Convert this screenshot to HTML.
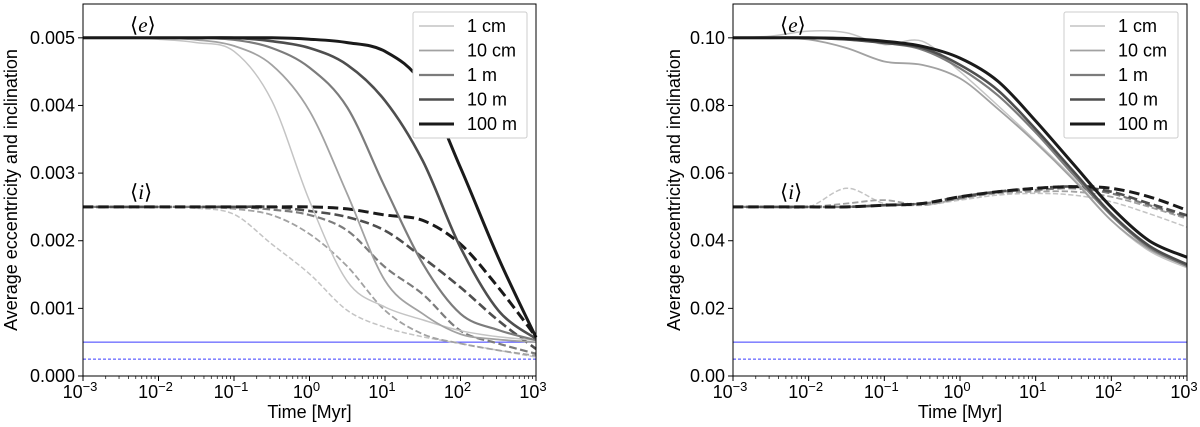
<!DOCTYPE html>
<html><head><meta charset="utf-8"><style>
html,body{margin:0;padding:0;background:#fff;}
svg{display:block;font-family:"Liberation Sans","DejaVu Sans",sans-serif;}
</style></head><body>
<svg id="fig" width="1200" height="427" viewBox="0 0 1200 427"></svg>
<script>
const logX = [-3,-2.5,-2,-1.5,-1,-0.5,0,0.5,1,1.5,2,2.5,3];
const sizes = ["1 cm","10 cm","1 m","10 m","100 m"];
// Left panel (units 1e-3)
const leftE = [
 [5,5,4.98,4.93,4.8,4.07,2.59,1.4,1.02,0.83,0.67,0.58,0.53],
 [5,5,5,4.97,4.88,4.6,3.92,2.69,1.41,0.92,0.62,0.54,0.5],
 [5,5,5,5,4.97,4.85,4.56,3.97,2.79,1.66,0.92,0.68,0.53],
 [5,5,5,5,5,4.95,4.85,4.6,4.07,3.18,1.9,0.97,0.55],
 [5,5,5,5,5,5,4.98,4.93,4.8,4.31,3.08,1.75,0.57]
];
const leftI = [
 [2.5,2.5,2.5,2.48,2.39,1.95,1.51,0.97,0.72,0.58,0.48,0.38,0.28],
 [2.5,2.5,2.5,2.5,2.47,2.38,2.1,1.62,0.97,0.62,0.48,0.38,0.3],
 [2.5,2.5,2.5,2.5,2.5,2.46,2.38,2.15,1.61,1.21,0.67,0.48,0.33],
 [2.5,2.5,2.5,2.5,2.5,2.5,2.44,2.35,2.15,1.75,1.31,0.82,0.4],
 [2.5,2.5,2.5,2.5,2.5,2.5,2.5,2.47,2.38,2.3,1.95,1.31,0.58]
];
// Right panel (units 1e-2)
const rightE = [
 [10,10.05,10.2,10.15,9.8,9.9,9.0,8.0,6.95,5.85,4.6,3.7,3.2],
 [10,10,9.95,9.7,9.3,9.2,8.8,7.9,6.9,5.8,4.6,3.75,3.25],
 [10,10,10,9.95,9.85,9.65,9.1,8.3,7.2,5.95,4.75,3.8,3.25],
 [10,10,10,9.95,9.85,9.7,9.2,8.45,7.3,6.05,4.8,3.85,3.3],
 [10,10,10,9.98,9.9,9.75,9.4,8.72,7.54,6.26,4.99,4.0,3.51]
];
const rightI = [
 [5,5,5,5.55,5.1,5.05,5.2,5.35,5.4,5.35,5.15,4.8,4.4],
 [5,5,5,5.1,5.2,5.05,5.25,5.4,5.45,5.45,5.3,5.0,4.65],
 [5,5,5,5,5.05,5.1,5.25,5.45,5.5,5.55,5.4,5.05,4.7],
 [5,5,5,5,5.05,5.1,5.3,5.45,5.55,5.6,5.45,5.1,4.75],
 [5,5,5,5,5.05,5.1,5.3,5.45,5.55,5.6,5.55,5.3,4.9]
];
const leftRef = [0.5,0.25];
const rightRef = [1.0,0.5];
const leftYTicks = ["0.000","0.001","0.002","0.003","0.004","0.005"];
const rightYTicks = ["0.00","0.02","0.04","0.06","0.08","0.10"];
const xTickExp = [-3,-2,-1,0,1,2,3];

const NS="http://www.w3.org/2000/svg";
const svg=document.getElementById('fig');
function mk(tag,attrs,parent){const e=document.createElementNS(NS,tag);for(const k in attrs)e.setAttribute(k,attrs[k]);(parent||svg).appendChild(e);return e;}
const colors=["#c4c4c4","#a2a2a2","#7c7c7c","#4e4e4e","#1a1a1a"];
const widths=[1.5,1.8,2.2,2.6,3];

function smooth(pts){
  let d='M'+pts[0][0].toFixed(1)+','+pts[0][1].toFixed(1);
  for(let i=0;i<pts.length-1;i++){
    const p0=pts[Math.max(0,i-1)],p1=pts[i],p2=pts[i+1],p3=pts[Math.min(pts.length-1,i+2)];
    const c1x=p1[0]+(p2[0]-p0[0])/6,c1y=p1[1]+(p2[1]-p0[1])/6;
    const c2x=p2[0]-(p3[0]-p1[0])/6,c2y=p2[1]-(p3[1]-p1[1])/6;
    d+=` C${c1x.toFixed(1)},${c1y.toFixed(1)} ${c2x.toFixed(1)},${c2y.toFixed(1)} ${p2[0].toFixed(1)},${p2[1].toFixed(1)}`;
  }
  return d;
}

function panel(id,L,R,yMaxUnits,step,yTicks,E,I,ref,ylabX){
  const T=4,B=376;
  const g=mk('g',{});
  
  
  const xs=v=>L+(v+3)/6*(R-L);
  const ys=v=>B-v/yMaxUnits*(B-T);
  const r1=mk('line',{x1:L,x2:R,y1:ys(ref[0]),y2:ys(ref[0]),stroke:'#3a3aff','stroke-width':1},g);
  
  
  const r2=mk('line',{x1:L,x2:R,y1:ys(ref[1]),y2:ys(ref[1]),stroke:'#3a3aff','stroke-width':1,'stroke-dasharray':'3,2'},g);
  
  
  function series(arr,dash,kind){
    arr.forEach((s,k)=>{
      const pts=s.map((v,j)=>[xs(logX[j]),ys(v)]);
      const p=mk('path',{d:smooth(pts),fill:'none',stroke:colors[k],'stroke-width':widths[k],'stroke-linejoin':'round'},g);
      if(dash)p.setAttribute('stroke-dasharray',(widths[k]*3.5)+','+(widths[k]*1.6));
      
      
    });
  }
  series(I,true,'inclination');
  series(E,false,'eccentricity');
  const fr=mk('rect',{x:L,y:T,width:R-L,height:B-T,fill:'none',stroke:'#000','stroke-width':1},g);
  
  
  yTicks.forEach((t,k)=>{
    const y=ys(k*step);
    mk('line',{x1:L-5,x2:L,y1:y,y2:y,stroke:'#000'},g);
    const tx=mk('text',{x:L-8,y:y+6,'text-anchor':'end','font-size':18},g);
    tx.textContent=t;
    
    
  });
  xTickExp.forEach(e=>{
    const x=xs(e);
    mk('line',{x1:x,x2:x,y1:B,y2:B+5,stroke:'#000'},g);
    const tx=mk('text',{x:x-3,y:B+22,'text-anchor':'middle','font-size':18},g);
    tx.textContent='10';
    const sp=mk('tspan',{dy:-7,'font-size':13},tx);
    sp.textContent=String(e).replace('-','\u2212');
    
    
    if(e<3)for(let m=2;m<10;m++){const xm=xs(e+Math.log10(m));mk('line',{x1:xm,x2:xm,y1:B,y2:B+3,stroke:'#000','stroke-width':0.7},g);}
  });
  const xl=mk('text',{x:(L+R)/2,y:418,'text-anchor':'middle','font-size':18},g);
  xl.textContent='Time [Myr]';
  
  
  const yl=mk('text',{transform:`translate(${ylabX},${(T+B)/2}) rotate(-90)`,'text-anchor':'middle','font-size':18},g);
  yl.textContent='Average eccentricity and inclination';
  
  
  const ae=mk('text',{x:L+47,y:32,'font-size':21,'font-family':'Liberation Serif, serif'},g);
  ae.innerHTML='⟨<tspan font-style="italic">e</tspan>⟩';
  
  
  const ai=mk('text',{x:L+47,y:ys(I[4][0])-8,'font-size':21,'font-family':'Liberation Serif, serif'},g);
  ai.innerHTML='⟨<tspan font-style="italic">i</tspan>⟩';
  
  
  const lx=R-123, ly=12;
  const lg=mk('g',{},g);
  
  
  mk('rect',{x:lx,y:ly,width:114,height:126,rx:2,fill:'#fff',stroke:'#ccc','stroke-width':1},lg);
  sizes.forEach((s,k)=>{
    const y=ly+14+k*24.5;
    const ln=mk('line',{x1:lx+6,x2:lx+41,y1:y,y2:y,stroke:colors[k],'stroke-width':widths[k]},lg);
    
    
    const t=mk('text',{x:lx+54,y:y+6,'font-size':18},lg);
    t.textContent=s;
    
    
  });
}
panel('left-chart',83,536,5.5,1,leftYTicks,leftE,leftI,leftRef,17);
panel('right-chart',733,1187,11,2,rightYTicks,rightE,rightI,rightRef,680);
</script>
</body></html>
